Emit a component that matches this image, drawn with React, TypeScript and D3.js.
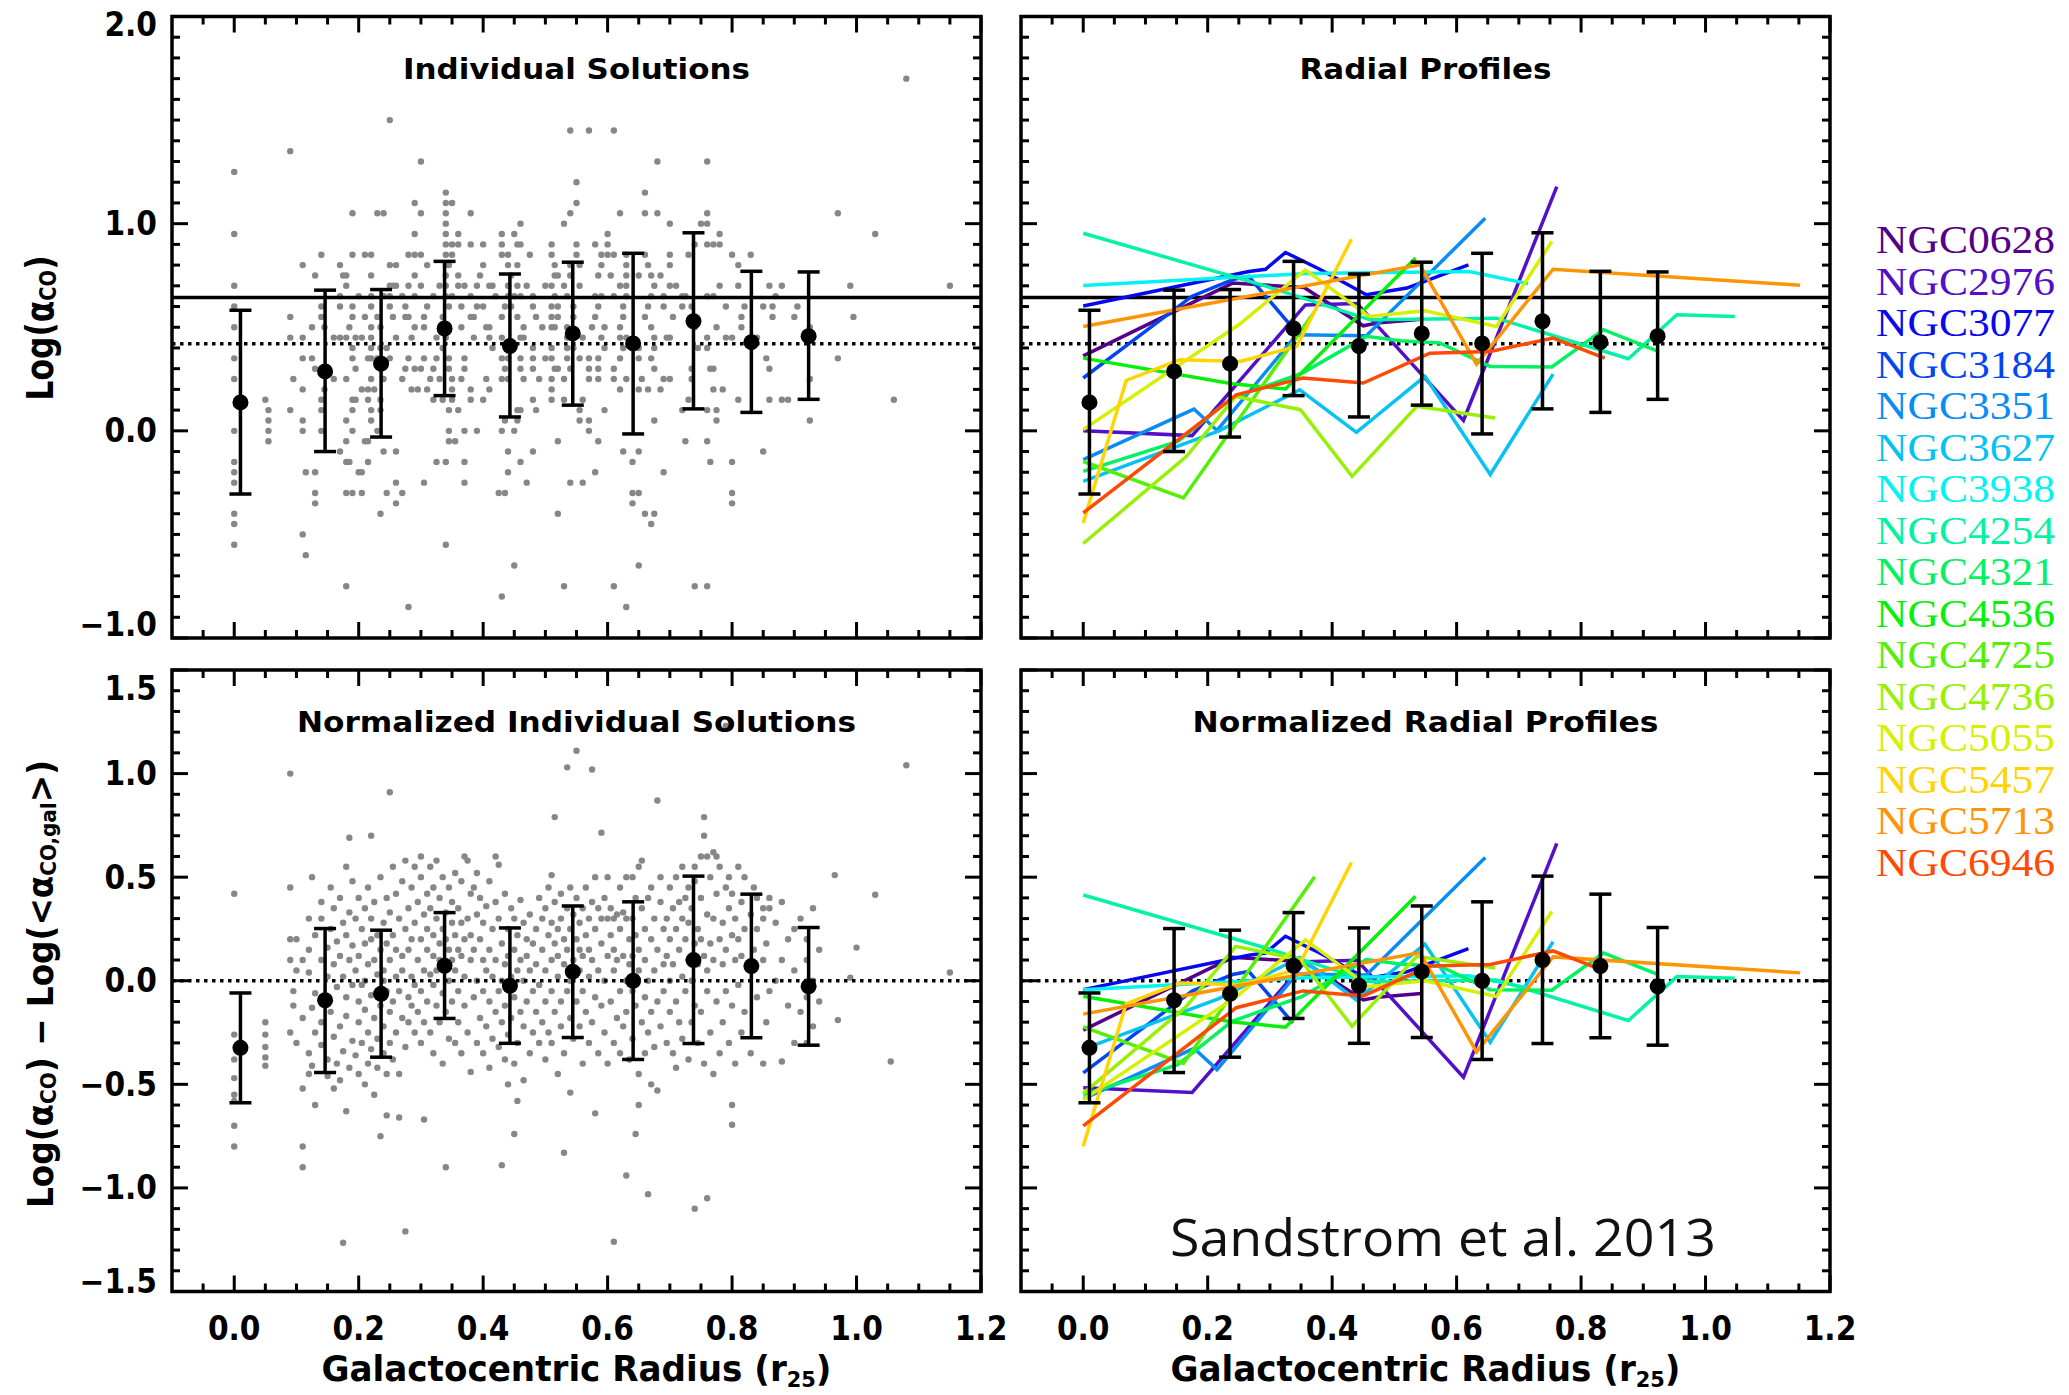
import React from 'react';
import * as d3 from 'd3';

// ---- data ----
const galaxyNames = [
  'NGC0628', 'NGC2976', 'NGC3077', 'NGC3184', 'NGC3351', 'NGC3627', 'NGC3938', 'NGC4254',
  'NGC4321', 'NGC4536', 'NGC4725', 'NGC4736', 'NGC5055', 'NGC5457', 'NGC5713', 'NGC6946',
];
const galaxyColors = [
  '#550088', '#5410c8', '#0808ee', '#0444f2', '#0a8cf2', '#06c2f2', '#04f2f2', '#04f2a6',
  '#04f262', '#08f008', '#52f004', '#98f004', '#d6f004', '#ffd404', '#ff9404', '#ff4a04',
];
// log <alpha_CO,gal> per galaxy (offset between the two right panels)
const galaxyMeans = [0.60, 0.516, 0.646, 0.70, 0.431, 0.086, 0.745, 0.54, 0.354, 0.426, 0.075, 0.0, 0.58, 0.354, 0.665, 0.304];

// radial profiles [r25, log alpha_CO]
const profiles: [number, number][][] = [
  [[0, 0.362], [0.24, 0.713], [0.355, 0.692], [0.45, 0.507], [0.472, 0.52], [0.543, 0.539]],
  [[0, 0.0], [0.175, -0.023], [0.357, 0.608], [0.44, 0.615], [0.611, 0.05], [0.761, 1.179]],
  [[0, 0.603], [0.266, 0.769], [0.293, 0.78], [0.325, 0.861], [0.38, 0.78], [0.455, 0.657], [0.52, 0.689], [0.619, 0.801]],
  [[0, 0.255], [0.175, 0.65], [0.24, 0.73], [0.266, 0.745], [0.337, 0.496]],
  [[0, -0.139], [0.178, 0.105], [0.215, 0.002], [0.343, 0.464], [0.455, 0.459], [0.646, 1.026]],
  [[0, -0.244], [0.218, 0.0], [0.348, 0.198], [0.439, -0.007], [0.549, 0.263], [0.654, -0.211], [0.755, 0.274]],
  [[0, 0.702], [0.36, 0.76], [0.62, 0.769], [0.715, 0.71]],
  [[0, 0.954], [0.295, 0.697], [0.461, 0.536], [0.664, 0.544], [0.876, 0.348], [0.954, 0.56], [1.047, 0.552]],
  [[0, -0.196], [0.152, -0.051], [0.239, 0.158], [0.352, 0.279], [0.455, 0.456], [0.509, 0.435], [0.573, 0.424], [0.654, 0.311], [0.753, 0.308], [0.836, 0.488], [0.924, 0.383]],
  [[0, 0.351], [0.2395, 0.227], [0.325, 0.202], [0.534, 0.834]],
  [[0, -0.148], [0.161, -0.324], [0.372, 0.577]],
  [[0, -0.544], [0.166, -0.123], [0.245, 0.166], [0.349, 0.102], [0.432, -0.22], [0.536, 0.118], [0.662, 0.062]],
  [[0, 0.006], [0.25, 0.512], [0.357, 0.777], [0.459, 0.552], [0.549, 0.58], [0.664, 0.504], [0.753, 0.914]],
  [[0, -0.445], [0.069, 0.243], [0.155, 0.343], [0.252, 0.335], [0.343, 0.407], [0.431, 0.925]],
  [[0, 0.504], [0.541, 0.801], [0.632, 0.322], [0.755, 0.78], [1.152, 0.703]],
  [[0, -0.396], [0.246, 0.174], [0.353, 0.255], [0.45, 0.231], [0.557, 0.375], [0.654, 0.383], [0.755, 0.448], [0.838, 0.351]],
];

// binned statistics
const binX = [0.010, 0.146, 0.236, 0.338, 0.443, 0.544, 0.641, 0.738, 0.831, 0.923];
const binMean = [0.137, 0.287, 0.324, 0.494, 0.409, 0.47, 0.422, 0.529, 0.428, 0.457];
const binLo = [-0.305, -0.1, -0.03, 0.17, 0.067, 0.124, -0.015, 0.106, 0.089, 0.152];
const binHi = [0.582, 0.679, 0.682, 0.818, 0.757, 0.814, 0.857, 0.956, 0.77, 0.767];
const normMean = [-0.324, -0.094, -0.063, 0.072, -0.024, 0.044, 0.0, 0.1, 0.071, -0.027];
const normLo = [-0.589, -0.443, -0.369, -0.182, -0.302, -0.274, -0.38, -0.303, -0.275, -0.311];
const normHi = [-0.059, 0.252, 0.244, 0.329, 0.255, 0.361, 0.381, 0.505, 0.418, 0.257];

const galacticLine = 0.644;
const medianLine = 0.42;

// individual solutions, grouped by log alpha_CO (values are gridded in 0.05 steps)
const indivRows: [number, number[]][] = [
  [1.70, [1.08]],
  [1.50, [0.25]],
  [1.45, [0.54, 0.57, 0.61]],
  [1.35, [0.09]],
  [1.30, [0.30, 0.68, 0.76]],
  [1.25, [0.0]],
  [1.20, [0.55]],
  [1.15, [0.34, 0.66]],
  [1.10, [0.29, 0.34, 0.35, 0.55]],
  [1.05, [0.19, 0.23, 0.24, 0.30, 0.34, 0.38, 0.54, 0.62, 0.66, 0.68, 0.76, 0.97]],
  [1.00, [0.34, 0.46, 0.53, 0.70, 0.75, 0.76]],
  [0.95, [0.0, 0.29, 0.34, 0.36, 0.43, 0.45, 0.60, 0.78, 1.03]],
  [0.90, [0.34, 0.35, 0.36, 0.38, 0.40, 0.43, 0.455, 0.46, 0.51, 0.55, 0.58, 0.60, 0.74, 0.76, 0.77, 0.78]],
  [0.85, [0.14, 0.19, 0.21, 0.22, 0.28, 0.29, 0.30, 0.34, 0.35, 0.43, 0.44, 0.475, 0.51, 0.55, 0.59, 0.60, 0.61, 0.63, 0.66, 0.70, 0.73, 0.80, 0.83]],
  [0.80, [0.11, 0.17, 0.25, 0.26, 0.31, 0.34, 0.345, 0.40, 0.44, 0.455, 0.515, 0.54, 0.555, 0.59, 0.63, 0.665, 0.70, 0.81]],
  [0.75, [0.13, 0.175, 0.18, 0.22, 0.29, 0.34, 0.36, 0.395, 0.445, 0.515, 0.52, 0.54, 0.585, 0.605, 0.63, 0.65, 0.67, 0.685]],
  [0.70, [0.0, 0.18, 0.25, 0.255, 0.26, 0.28, 0.30, 0.33, 0.34, 0.36, 0.37, 0.39, 0.41, 0.415, 0.44, 0.455, 0.47, 0.50, 0.51, 0.53, 0.555, 0.62, 0.63, 0.675, 0.70, 0.71, 0.78, 0.81, 0.86, 0.88, 0.99, 1.15]],
  [0.65, [0.17, 0.20, 0.22, 0.24, 0.25, 0.27, 0.29, 0.32, 0.34, 0.35, 0.38, 0.42, 0.44, 0.45, 0.46, 0.48, 0.515, 0.535, 0.58, 0.59, 0.61, 0.63, 0.67, 0.69, 0.72, 0.725, 0.76, 0.77, 0.87]],
  [0.60, [0.0, 0.14, 0.17, 0.19, 0.22, 0.25, 0.275, 0.31, 0.345, 0.365, 0.39, 0.40, 0.435, 0.445, 0.48, 0.51, 0.52, 0.545, 0.585, 0.625, 0.665, 0.69, 0.72, 0.735, 0.79, 0.82, 0.85, 0.865, 0.905]],
  [0.55, [0.09, 0.14, 0.19, 0.21, 0.23, 0.255, 0.275, 0.28, 0.305, 0.335, 0.38, 0.385, 0.43, 0.455, 0.485, 0.51, 0.52, 0.545, 0.58, 0.625, 0.66, 0.705, 0.74, 0.815, 0.865, 0.90, 0.995]],
  [0.50, [0.0, 0.125, 0.145, 0.185, 0.22, 0.235, 0.29, 0.305, 0.335, 0.365, 0.405, 0.41, 0.465, 0.495, 0.51, 0.515, 0.535, 0.575, 0.595, 0.62, 0.67, 0.74, 0.775, 0.815, 0.925]],
  [0.45, [0.09, 0.11, 0.16, 0.17, 0.18, 0.195, 0.205, 0.22, 0.26, 0.285, 0.325, 0.34, 0.385, 0.41, 0.43, 0.46, 0.465, 0.535, 0.56, 0.59, 0.62, 0.63, 0.675, 0.695, 0.70, 0.76, 0.79, 0.80, 0.84]],
  [0.40, [0.19, 0.22, 0.235, 0.245, 0.335, 0.415, 0.445, 0.48, 0.51, 0.535, 0.545, 0.595, 0.625, 0.65, 0.675, 0.745, 0.76]],
  [0.35, [0.0, 0.11, 0.125, 0.19, 0.215, 0.22, 0.23, 0.25, 0.28, 0.305, 0.325, 0.345, 0.37, 0.43, 0.44, 0.46, 0.48, 0.50, 0.51, 0.535, 0.555, 0.57, 0.585, 0.62, 0.65, 0.67, 0.855, 0.97]],
  [0.30, [0.13, 0.195, 0.235, 0.275, 0.29, 0.30, 0.32, 0.345, 0.37, 0.435, 0.46, 0.48, 0.515, 0.52, 0.54, 0.57, 0.585, 0.61, 0.675, 0.735, 0.765, 0.77, 0.86]],
  [0.25, [0.0, 0.095, 0.16, 0.18, 0.22, 0.24, 0.27, 0.315, 0.33, 0.35, 0.365, 0.405, 0.43, 0.44, 0.465, 0.49, 0.51, 0.53, 0.57, 0.585, 0.61, 0.63, 0.655, 0.69, 0.70, 0.735, 0.925]],
  [0.20, [0.11, 0.145, 0.205, 0.215, 0.225, 0.285, 0.295, 0.31, 0.35, 0.38, 0.41, 0.51, 0.62, 0.65, 0.665, 0.685, 0.77, 0.785]],
  [0.15, [0.05, 0.14, 0.19, 0.195, 0.215, 0.235, 0.32, 0.335, 0.35, 0.38, 0.40, 0.48, 0.51, 0.53, 0.56, 0.73, 0.81, 0.86, 0.88, 0.89, 1.06]],
  [0.10, [0.055, 0.09, 0.14, 0.19, 0.22, 0.235, 0.345, 0.36, 0.455, 0.46, 0.485, 0.555, 0.595, 0.72, 0.76, 0.775]],
  [0.05, [0.055, 0.11, 0.18, 0.22, 0.435, 0.455, 0.555, 0.57, 0.675, 0.775, 0.925]],
  [0.00, [0.0, 0.055, 0.11, 0.14, 0.19, 0.23, 0.345, 0.37, 0.39, 0.43, 0.45, 0.57]],
  [-0.05, [0.055, 0.18, 0.21, 0.215, 0.345, 0.355, 0.52, 0.585, 0.725, 0.76]],
  [-0.10, [0.17, 0.24, 0.26, 0.44, 0.48, 0.625, 0.65, 0.85]],
  [-0.15, [0.0, 0.18, 0.185, 0.215, 0.325, 0.34, 0.37, 0.46, 0.64, 0.765, 0.80]],
  [-0.20, [0.0, 0.115, 0.13, 0.20, 0.205, 0.44, 0.58, 0.69]],
  [-0.25, [0.0, 0.26, 0.305, 0.37, 0.47, 0.54, 0.56]],
  [-0.30, [0.13, 0.18, 0.19, 0.205, 0.245, 0.27, 0.425, 0.435, 0.64, 0.65, 0.80]],
  [-0.35, [0.13, 0.26, 0.64, 0.80]],
  [-0.40, [0.0, 0.235, 0.52, 0.66, 0.675]],
  [-0.45, [0.0, 0.67]],
  [-0.50, [0.11]],
  [-0.55, [0.0, 0.34]],
  [-0.60, [0.115]],
  [-0.65, [0.45, 0.65]],
  [-0.75, [0.18, 0.53, 0.61, 0.74, 0.76]],
  [-0.80, [0.43]],
  [-0.85, [0.28, 0.63]],
];

// normalized individual solutions, grouped by radius: [r25, [dlog alpha_CO ...]]
const normCols: [number, number[]][] = [
  [0.0, [0.42, -0.26, -0.38, -0.47, -0.55, -0.58, -0.70, -0.80]],
  [0.05, [-0.2, -0.26, -0.32, -0.37, -0.41]],
  [0.09, [0.45, 0.2, 0.1, -0.25, 1.0]],
  [0.095, [-0.05, -0.12]],
  [0.10, [0.2, 0.05, -0.3]],
  [0.11, [0.1, -0.52, -0.8, -0.9, -0.18]],
  [0.12, [0.15, 0.04, -0.35, -0.45, 0.3]],
  [0.125, [-0.13, -0.41, 0.5]],
  [0.13, [0.22, -0.06, -0.6, -0.25]],
  [0.14, [0.3, 0.1, -0.2, -0.31, 0.38]],
  [0.15, [0.16, -0.1, -0.46, 0.02, -0.38]],
  [0.155, [0.25, -0.15, 0.45]],
  [0.16, [0.08, -0.27, -0.52, 0.35]],
  [0.165, [-0.03, 0.19, -0.4]],
  [0.17, [0.12, -0.22, 0.4, -0.48]],
  [0.175, [0.02, -0.34, 0.28, -1.265]],
  [0.18, [-0.08, 0.22, -0.17, -0.63, 0.55]],
  [0.185, [0.1, -0.42, 0.69, 0.33]],
  [0.19, [-0.02, 0.17, -0.29, 0.48]],
  [0.195, [0.05, -0.36, 0.3]],
  [0.20, [0.12, -0.1, 0.4, -0.45, -0.2]],
  [0.205, [0.25, -0.02, -0.3]],
  [0.21, [0.18, 0.0, -0.5, 0.35, -0.14]],
  [0.215, [0.08, -0.25, 0.45, -0.4]],
  [0.22, [0.3, -0.07, -0.33, 0.2, 0.7]],
  [0.225, [0.1, -0.18, -0.55, 0.38]],
  [0.23, [0.03, 0.22, -0.28, -0.42]],
  [0.235, [-0.12, 0.15, 0.5, -0.75]],
  [0.24, [0.05, -0.35, 0.28, -0.22, 0.0]],
  [0.245, [0.18, -0.05, -0.45, -0.65, 0.4]],
  [0.25, [-0.15, 0.1, 0.33, -0.3, 0.91]],
  [0.255, [0.22, -0.1, 0.55, -0.38]],
  [0.26, [0.02, -0.25, 0.42, 0.15]],
  [0.265, [-0.05, 0.3, -0.66, -0.45]],
  [0.27, [0.12, -0.18, 0.48, 0.05]],
  [0.275, [0.25, -0.32, 0.58, -1.21]],
  [0.28, [-0.08, 0.35, 0.15, -0.2]],
  [0.285, [0.02, 0.45, -0.12, 0.2]],
  [0.29, [0.28, -0.25, 0.55, -0.02]],
  [0.295, [0.1, -0.15, 0.38]],
  [0.30, [0.2, -0.05, 0.5, -0.3, 0.6]],
  [0.305, [0.32, 0.05, -0.67, -0.2]],
  [0.31, [0.15, -0.1, 0.42, 0.25]],
  [0.315, [0.03, 0.35, -0.25, 0.55]],
  [0.32, [0.22, -0.02, 0.12, -0.35, 0.45]],
  [0.325, [0.3, -0.12, 0.05, 0.58]],
  [0.33, [0.18, 0.4, -0.2, 0.1]],
  [0.335, [0.25, -0.06, 0.5, -0.4]],
  [0.34, [0.08, 0.33, -0.15, -0.9, 0.2]],
  [0.345, [0.15, 0.45, -0.28, 0.0]],
  [0.35, [0.28, -0.1, 0.38, 0.1]],
  [0.355, [0.05, 0.22, -0.3, 0.52]],
  [0.36, [0.35, -0.05, 0.15, -0.2]],
  [0.365, [0.12, 0.48, -0.35, 0.28]],
  [0.37, [0.6, 0.2, -0.12, 0.02]],
  [0.375, [0.3, 0.58, -0.25]],
  [0.38, [0.1, -0.44, 0.42, 0.22]],
  [0.385, [0.45, -0.08, 0.15]],
  [0.39, [0.32, 0.0, -0.3, 0.52]],
  [0.395, [0.2, -0.18, 0.4]],
  [0.40, [0.1, -0.05, 0.28, -0.35]],
  [0.405, [0.36, -0.22, 0.05]],
  [0.41, [0.15, -0.1, 0.48, -0.42]],
  [0.415, [0.25, -0.28, 0.02]],
  [0.42, [0.6, 0.38, -0.15, 0.1]],
  [0.425, [0.56, -0.05, 0.3, -0.32]],
  [0.43, [0.18, -0.2, -0.89, 0.0]],
  [0.435, [0.08, 0.42, -0.38, -0.12]],
  [0.44, [0.25, -0.26, 0.12, -0.5]],
  [0.445, [0.02, 0.35, -0.18]],
  [0.45, [0.15, -0.08, -0.74, 0.3, -0.4]],
  [0.455, [0.22, -0.3, -0.58, 0.05]],
  [0.46, [0.39, -0.15, 0.1]],
  [0.465, [0.0, 0.28, -0.22, -0.48]],
  [0.47, [0.12, -0.1, 0.2]],
  [0.475, [0.32, -0.35, 0.05]],
  [0.48, [-0.05, 0.18, -0.25]],
  [0.485, [0.25, 0.08, -0.15]],
  [0.49, [0.4, -0.02, -0.3]],
  [0.495, [0.15, -0.2, 0.3]],
  [0.50, [0.05, 0.35, -0.1, -0.38]],
  [0.505, [0.22, -0.25, 0.45]],
  [0.51, [0.51, 0.1, -0.05, -0.3, 0.28]],
  [0.515, [0.79, 0.18, -0.15, 0.38]],
  [0.52, [0.02, 0.25, -0.45, 0.12]],
  [0.525, [0.3, -0.1, 0.42, -0.22]],
  [0.53, [0.08, -0.83, 0.2, -0.35]],
  [0.535, [1.03, 0.35, -0.05, 0.15]],
  [0.54, [0.45, -0.54, 0.0, -0.18, 0.25]],
  [0.545, [0.1, 0.32, -0.28]],
  [0.55, [1.11, 0.2, -0.1, 0.4]],
  [0.555, [0.05, -0.22, 0.28, 0.15]],
  [0.56, [0.35, -0.05, -0.4, 0.12]],
  [0.565, [0.22, -0.15, 0.45]],
  [0.57, [0.02, 0.3, -0.3, 0.15]],
  [0.575, [1.02, 0.1, -0.2, 0.38]],
  [0.58, [0.25, -0.64, -0.08, 0.5]],
  [0.585, [0.05, 0.35, -0.35]],
  [0.59, [0.715, 0.18, -0.12, 0.3]],
  [0.595, [0.0, 0.4, -0.25]],
  [0.60, [0.3, 0.12, -0.4, 0.5]],
  [0.605, [0.22, -0.1, 0.35]],
  [0.61, [-1.26, 0.05, 0.3, -0.3, 0.15]],
  [0.615, [0.32, -0.18, 0.1]],
  [0.62, [0.25, -0.05, 0.45, -0.35]],
  [0.625, [0.12, 0.33, -0.22]],
  [0.63, [-0.94, 0.3, 0.0, -0.15, 0.5]],
  [0.635, [0.2, -0.38, 0.08]],
  [0.64, [0.5, 0.12, -0.28, -0.05, 0.3]],
  [0.645, [-0.74, 0.22, -0.12, 0.4]],
  [0.65, [-0.6, 0.05, 0.55, -0.45, 0.15]],
  [0.655, [0.35, -0.2, 0.58]],
  [0.66, [0.1, -0.35, 0.25, -0.08]],
  [0.665, [-1.03, 0.4, 0.0, -0.25]],
  [0.67, [0.2, -0.15, 0.45, -0.5]],
  [0.675, [0.05, 0.3, -0.32]],
  [0.68, [0.87, -0.53, 0.15, -0.1]],
  [0.685, [0.38, -0.22, 0.5]],
  [0.69, [0.08, 0.25, -0.05]],
  [0.695, [0.3, -0.3, 0.12]],
  [0.70, [0.45, 0.0, -0.15, 0.2]],
  [0.705, [0.35, -0.35, 0.08]],
  [0.71, [0.25, -0.1, 0.5, -0.42]],
  [0.715, [0.15, 0.38, -0.2]],
  [0.72, [0.02, 0.3, -0.28, 0.55]],
  [0.725, [0.2, -0.05, 0.4]],
  [0.73, [0.1, -0.38, 0.28, 0.45]],
  [0.735, [0.35, 0.0, -0.2]],
  [0.74, [-1.1, 0.48, 0.18, -0.12, 0.55]],
  [0.745, [0.25, -0.3, 0.08]],
  [0.75, [0.4, 0.6, -0.15, 0.2]],
  [0.755, [0.79, 0.7, 0.12, -0.4]],
  [0.76, [-1.05, 0.32, -0.05, 0.6, 0.05]],
  [0.765, [0.5, -0.25, 0.18]],
  [0.77, [0.62, 0.1, -0.45, 0.3]],
  [0.775, [0.42, -0.1, 0.6]],
  [0.78, [0.2, -0.35, 0.55]],
  [0.785, [0.28, 0.08, -0.2]],
  [0.79, [1.23, 0.45, -0.05, 0.15]],
  [0.795, [0.35, -0.3, 0.5]],
  [0.80, [-0.6, -0.695, 0.22, -0.12, 0.42]],
  [0.805, [0.1, 0.3, -0.4]],
  [0.81, [0.55, -0.02, 0.2]],
  [0.815, [0.38, -0.25, 0.12]],
  [0.82, [0.25, -0.15, 0.5]],
  [0.83, [0.05, 0.32, -0.35]],
  [0.835, [0.45, 0.15]],
  [0.84, [-0.08, 0.25, 0.4]],
  [0.85, [-0.4, 0.3, 0.1, 0.35]],
  [0.855, [0.18, -0.2]],
  [0.86, [0.4, -0.05, 0.35]],
  [0.87, [0.28, 0.0]],
  [0.88, [-0.39, 0.1, 0.38]],
  [0.89, [0.2, -0.12]],
  [0.90, [0.05, -0.3, 0.25]],
  [0.91, [-0.15, 0.3]],
  [0.92, [-0.3, 0.1, -0.08, 0.2]],
  [0.93, [0.0, -0.22, 0.35]],
  [0.94, [-0.1, 0.15]],
  [0.965, [0.51]],
  [0.97, [-0.19]],
  [0.99, [0.015]],
  [1.0, [0.16]],
  [1.03, [0.415]],
  [1.055, [-0.39]],
  [1.08, [1.04]],
  [1.15, [0.04]],
];

// ---- layout ----
const W = 2069;
const H = 1395;
const xDomain: [number, number] = [-0.1, 1.2];
const panelW = 809;
const panelH = 621.5;
const colLeft = [172, 1021];
const rowTop = [16.5, 670];

const boldFont = "'DejaVu Sans Condensed', 'Liberation Sans Narrow', 'DejaVu Sans', sans-serif";
const fmt = (v: number) => v.toFixed(1).replace('-', '\u2212');
const isMult = (v: number, step: number) => Math.abs(v / step - Math.round(v / step)) < 1e-6;

function Frame(props: any) {
  const { left, top, yDomain, yMajorStep, yLabels, xLabels, nudgeTop, nudgeBottom } = props;
  const right = left + panelW;
  const bottom = top + panelH;
  const x = d3.scaleLinear().domain(xDomain).range([left, right]);
  const y = d3.scaleLinear().domain(yDomain).range([bottom, top]);
  const xMajor = d3.range(0, 1.2001, 0.2);
  const xMinor = d3.range(-0.05, 1.2, 0.05).filter((v) => !isMult(v, 0.2));
  const yAll = d3.range(yDomain[0], yDomain[1] + 1e-6, 0.1).map((v) => Math.round(v * 10) / 10);
  const yMajor = yAll.filter((v) => isMult(v, yMajorStep));
  const yMinor = yAll.filter((v) => !isMult(v, yMajorStep));
  const big = 16;
  const small = 8;
  return (
    <g stroke="#000" strokeWidth={3}>
      {xMajor.concat(xMinor).map((v, i) => {
        const len = isMult(v, 0.2) ? big : small;
        return (
          <g key={'x' + i}>
            <line x1={x(v)} x2={x(v)} y1={bottom} y2={bottom - len} />
            <line x1={x(v)} x2={x(v)} y1={top} y2={top + len} />
          </g>
        );
      })}
      {yMajor.concat(yMinor).map((v, i) => {
        const len = isMult(v, yMajorStep) ? big : small;
        return (
          <g key={'y' + i}>
            <line x1={left} x2={left + len} y1={y(v)} y2={y(v)} />
            <line x1={right} x2={right - len} y1={y(v)} y2={y(v)} />
          </g>
        );
      })}
      <rect x={left} y={top} width={panelW} height={panelH} fill="none" strokeWidth={3.5} />
      {yLabels &&
        yMajor.map((v) => {
          let dy = 0;
          if (v === yDomain[1]) dy = nudgeTop;
          if (v === yDomain[0]) dy = nudgeBottom;
          return (
            <text key={'yl' + v} x={left - 15} y={y(v) + dy} textAnchor="end" dominantBaseline="central"
              stroke="none" fill="#000" fontFamily={boldFont} fontWeight="bold" fontSize={33}>
              {fmt(v)}
            </text>
          );
        })}
      {xLabels &&
        xMajor.map((v) => (
          <text key={'xl' + v} x={x(v)} y={bottom + 37} textAnchor="middle" dominantBaseline="central"
            stroke="none" fill="#000" fontFamily={boldFont} fontWeight="bold" fontSize={33}>
            {fmt(v)}
          </text>
        ))}
    </g>
  );
}

function ErrorBars(props: any) {
  const { x, y, mean, lo, hi } = props;
  return (
    <g stroke="#000" strokeWidth={3.5}>
      {binX.map((xv, i) => (
        <g key={i}>
          <line x1={x(xv)} x2={x(xv)} y1={y(lo[i])} y2={y(hi[i])} />
          <line x1={x(xv) - 11} x2={x(xv) + 11} y1={y(lo[i])} y2={y(lo[i])} />
          <line x1={x(xv) - 11} x2={x(xv) + 11} y1={y(hi[i])} y2={y(hi[i])} />
          <circle cx={x(xv)} cy={y(mean[i])} r={8} fill="#000" stroke="none" />
        </g>
      ))}
    </g>
  );
}

function HLine(props: any) {
  const { x, y, v, dotted } = props;
  return (
    <line x1={x(xDomain[0])} x2={x(xDomain[1])} y1={y(v)} y2={y(v)} stroke="#000" strokeWidth={3.5}
      strokeDasharray={dotted ? '3.5 4.5' : undefined} />
  );
}

function Title(props: any) {
  const { left, top, text, len } = props;
  return (
    <text x={left + panelW / 2} y={top + 62} textAnchor="middle" fontFamily={boldFont} fontWeight="bold"
      fontSize={29} textLength={len} lengthAdjust="spacingAndGlyphs">
      {text}
    </text>
  );
}

function XTitle(props: any) {
  const { left } = props;
  return (
    <text x={left + panelW / 2} y={1381} textAnchor="middle" fontFamily={boldFont} fontWeight="bold"
      fontSize={36} textLength={510} lengthAdjust="spacingAndGlyphs">
      Galactocentric Radius (r<tspan fontSize={22} dy={6}>25</tspan><tspan dy={-6}>)</tspan>
    </text>
  );
}

export default function App() {
  const xs = colLeft.map((l) => d3.scaleLinear().domain(xDomain).range([l, l + panelW]));
  const yTop = d3.scaleLinear().domain([-1, 2]).range([rowTop[0] + panelH, rowTop[0]]);
  const yBot = d3.scaleLinear().domain([-1.5, 1.5]).range([rowTop[1] + panelH, rowTop[1]]);
  const indivPoints = indivRows.flatMap(([yv, list]) => list.map((xv) => [xv, yv] as [number, number]));
  const normPoints = normCols.flatMap(([xv, list]) => list.map((yv) => [xv, yv] as [number, number]));
  const normProfiles = profiles.map((p, g) => p.map(([r, v]) => [r, v - galaxyMeans[g]] as [number, number]));
  const lineTop = d3.line<[number, number]>().x((d) => xs[1](d[0])).y((d) => yTop(d[1]));
  const lineBot = d3.line<[number, number]>().x((d) => xs[1](d[0])).y((d) => yBot(d[1]));

  return (
    <svg width={W} height={H} style={{ position: 'absolute', left: 0, top: 0, background: '#fff' }}>
      <rect width={W} height={H} fill="#fff" />

      {/* top left: individual solutions */}
      <g fill="#878787">
        {indivPoints.map((d, i) => (
          <circle key={i} cx={xs[0](d[0])} cy={yTop(d[1])} r={3.2} />
        ))}
      </g>
      <HLine x={xs[0]} y={yTop} v={galacticLine} />
      <HLine x={xs[0]} y={yTop} v={medianLine} dotted />
      <ErrorBars x={xs[0]} y={yTop} mean={binMean} lo={binLo} hi={binHi} />
      <Frame left={colLeft[0]} top={rowTop[0]} yDomain={[-1, 2]} yMajorStep={1} yLabels nudgeTop={8} nudgeBottom={-14} />
      <Title left={colLeft[0]} top={rowTop[0]} text="Individual Solutions" len={347} />

      {/* top right: radial profiles */}
      <HLine x={xs[1]} y={yTop} v={galacticLine} />
      <HLine x={xs[1]} y={yTop} v={medianLine} dotted />
      <g fill="none" strokeWidth={3.5}>
        {profiles.map((p, g) => (
          <path key={g} d={lineTop(p) || ''} stroke={galaxyColors[g]} />
        ))}
      </g>
      <ErrorBars x={xs[1]} y={yTop} mean={binMean} lo={binLo} hi={binHi} />
      <Frame left={colLeft[1]} top={rowTop[0]} yDomain={[-1, 2]} yMajorStep={1} />
      <Title left={colLeft[1]} top={rowTop[0]} text="Radial Profiles" len={252} />

      {/* bottom left: normalized individual solutions */}
      <g fill="#878787">
        {normPoints.map((d, i) => (
          <circle key={i} cx={xs[0](d[0])} cy={yBot(d[1])} r={3.2} />
        ))}
      </g>
      <HLine x={xs[0]} y={yBot} v={0} dotted />
      <ErrorBars x={xs[0]} y={yBot} mean={normMean} lo={normLo} hi={normHi} />
      <Frame left={colLeft[0]} top={rowTop[1]} yDomain={[-1.5, 1.5]} yMajorStep={0.5} yLabels xLabels nudgeTop={18} nudgeBottom={-10} />
      <Title left={colLeft[0]} top={rowTop[1]} text="Normalized Individual Solutions" len={559} />

      {/* bottom right: normalized radial profiles */}
      <HLine x={xs[1]} y={yBot} v={0} dotted />
      <g fill="none" strokeWidth={3.5}>
        {normProfiles.map((p, g) => (
          <path key={g} d={lineBot(p) || ''} stroke={galaxyColors[g]} />
        ))}
      </g>
      <ErrorBars x={xs[1]} y={yBot} mean={normMean} lo={normLo} hi={normHi} />
      <Frame left={colLeft[1]} top={rowTop[1]} yDomain={[-1.5, 1.5]} yMajorStep={0.5} xLabels />
      <Title left={colLeft[1]} top={rowTop[1]} text="Normalized Radial Profiles" len={466} />

      {/* axis titles */}
      <XTitle left={colLeft[0]} />
      <XTitle left={colLeft[1]} />
      <text transform="translate(40,328) rotate(-90)" textAnchor="middle" dominantBaseline="central"
        fontFamily={boldFont} fontWeight="bold" fontSize={37} textLength={145} lengthAdjust="spacingAndGlyphs">
        Log(α<tspan fontSize={23} dy={8}>CO</tspan><tspan dy={-8}>)</tspan>
      </text>
      <text transform="translate(40,984) rotate(-90)" textAnchor="middle" dominantBaseline="central"
        fontFamily={boldFont} fontWeight="bold" fontSize={36} textLength={448} lengthAdjust="spacingAndGlyphs">
        Log(α<tspan fontSize={22} dy={8}>CO</tspan><tspan dy={-8}>)</tspan>
        {'  \u2212  Log(<α'}<tspan fontSize={22} dy={8}>CO,gal</tspan><tspan dy={-8}>{'>)'}</tspan>
      </text>

      {/* legend */}
      {galaxyNames.map((n, i) => (
        <text key={n} x={1876} y={253 + 41.5 * i} fill={galaxyColors[i]} fontFamily="'Liberation Serif', 'DejaVu Serif', serif"
          fontSize={40} textLength={179} lengthAdjust="spacingAndGlyphs">
          {n}
        </text>
      ))}

      <text x={1170} y={1256} fontFamily="'Open Sans', 'Noto Sans', sans-serif" fontSize={52} fill="#111"
        textLength={546} lengthAdjust="spacingAndGlyphs">
        Sandstrom et al. 2013
      </text>
    </svg>
  );
}
